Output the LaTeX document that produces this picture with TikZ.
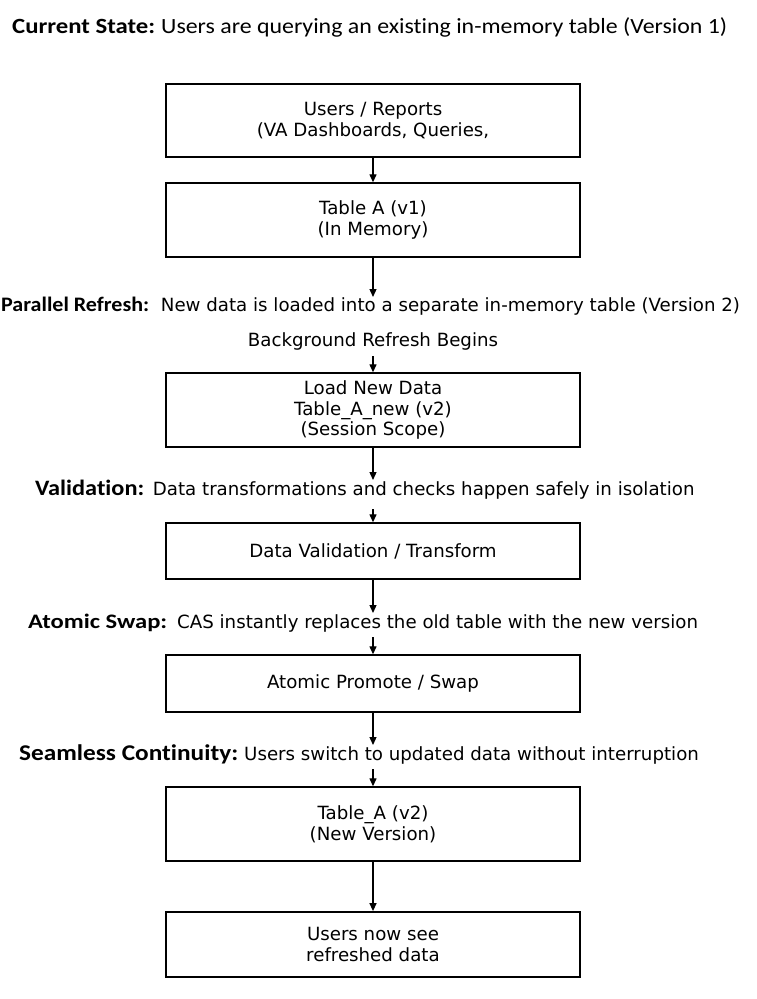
\documentclass[tikz,border=0pt]{standalone}
\usepackage{fontspec}
\setmainfont{DejaVu Sans}
\newfontfamily\hdr[Ligatures=NoCommon]{Carlito}
\usetikzlibrary{arrows.meta}
\newcommand{\fitw}[2]{\resizebox{#1pt}{\height}{#2}}
\begin{document}
\begin{tikzpicture}[x=1pt,y=-1pt,
  box/.style={draw=black,line width=1.4pt,minimum width=414pt,inner sep=0pt,align=center,
    font=\fontsize{18.2}{20.7}\selectfont},
  lbl/.style={inner sep=0pt,anchor=base west},
  body/.style={inner sep=0pt,anchor=base west,font=\fontsize{18.2}{21}\selectfont},
  arr/.style={-{Triangle[length=8pt,width=7pt]},line width=1.3pt}]
\useasboundingbox[fill=white] (0,0) rectangle (756,999);

% header
\node[lbl,font=\hdr\bfseries\fontsize{21.7}{24}\selectfont] (csl) at (12,33.5) {\fitw{143}{Current State:}};
\node[lbl,font=\hdr\fontsize{21.7}{24}\selectfont] (cst) at (161,33.5) {\fitw{566}{Users are querying an existing in-memory table (Version 1)}};

% boxes
\node[box,minimum height=73pt] (b1) at (373,120.5) {Users / Reports\\(VA Dashboards, Queries,};
\node[box,minimum height=74pt] (b2) at (373,220) {Table A (v1)\\(In Memory)};
\node[box,minimum height=74pt] (b3) at (373,410) {Load New Data\\Table\_A\_new (v2)\\(Session Scope)};
\node[box,minimum height=56pt] (b4) at (373,551) {Data Validation / Transform};
\node[box,minimum height=57pt] (b5) at (373,683.5) {Atomic Promote / Swap};
\node[box,minimum height=74pt] (b6) at (373,824) {Table\_A (v2)\\(New Version)};
\node[box,minimum height=65pt] (b7) at (373,944.3) {Users now see\\refreshed data};

% phase labels
\node[lbl,font=\hdr\bfseries\fontsize{20.6}{24}\selectfont] (prl) at (1,311.7) {\fitw{148}{Parallel Refresh:}};
\node[body] (prt) at (160.7,311.7) {New data is loaded into a separate in-memory table (Version 2)};
\node[inner sep=0pt,anchor=base,font=\fontsize{18.2}{21}\selectfont] (bg) at (373,346) {Background Refresh Begins};

\node[lbl,font=\hdr\bfseries\fontsize{22}{24}\selectfont] (vl) at (35,495) {\fitw{109}{Validation:}};
\node[body] (vt) at (152.7,495) {Data transformations and checks happen safely in isolation};

\node[lbl,font=\hdr\bfseries\fontsize{20.6}{24}\selectfont] (asl) at (28,628) {\fitw{139}{Atomic Swap:}};
\node[body] (ast) at (177,628) {CAS instantly replaces the old table with the new version};

\node[lbl,font=\hdr\bfseries\fontsize{22.5}{24}\selectfont] (scl) at (19,760) {\fitw{219}{Seamless Continuity:}};
\node[body] (sct) at (244,760) {Users switch to updated data without interruption};

% free ends
\coordinate (e2) at (373,297);
\coordinate (s3) at (373,356);
\coordinate (e4) at (373,480);
\coordinate (s5) at (373,509);
\coordinate (e6) at (373,613);
\coordinate (s7) at (373,637);
\coordinate (e8) at (373,745);
\coordinate (s9) at (373,769);

% arrows
\draw[arr] (b1.south) -- (b2.north);
\draw[arr] (b2.south) -- (e2);
\draw[arr] (s3) -- (b3.north);
\draw[arr] (b3.south) -- (e4);
\draw[arr] (s5) -- (b4.north);
\draw[arr] (b4.south) -- (e6);
\draw[arr] (s7) -- (b5.north);
\draw[arr] (b5.south) -- (e8);
\draw[arr] (s9) -- (b6.north);
\draw[arr] (b6.south) -- (b7.north);
\end{tikzpicture}
\end{document}
